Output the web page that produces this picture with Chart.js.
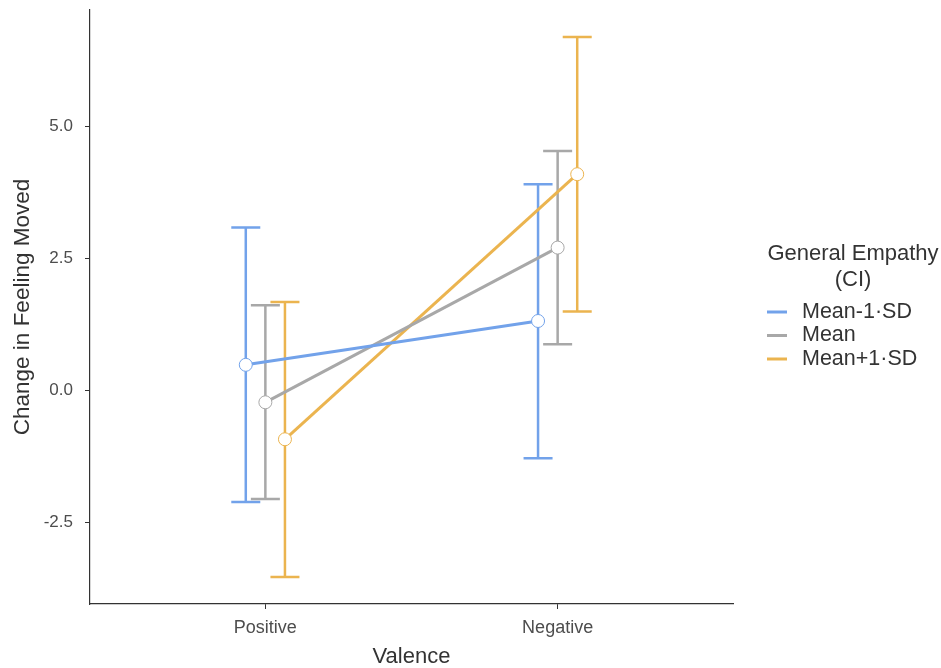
<!DOCTYPE html>
<html>
<head>
<meta charset="utf-8">
<script src="https://cdn.jsdelivr.net/npm/chart.js@4.4.1/dist/chart.umd.min.js"></script>
<style>
    body { margin: 0; background: #fff; }
    canvas { display: block; }
</style>
</head>
<body>
<canvas id="interactionChart" width="941" height="668"></canvas>
<script>
// Data
const categories = ['Positive', 'Negative'];
const seriesNames = ['Mean-1\u00b7SD', 'Mean', 'Mean+1\u00b7SD'];
const lowEmpathyMean = [0.49, 1.32];
const lowEmpathyLower = [-2.11, -1.28];
const lowEmpathyUpper = [3.09, 3.91];
const meanEmpathyMean = [-0.22, 2.71];
const meanEmpathyLower = [-2.05, 0.88];
const meanEmpathyUpper = [1.62, 4.54];
const highEmpathyMean = [-0.92, 4.10];
const highEmpathyLower = [-3.53, 1.50];
const highEmpathyUpper = [1.68, 6.70];
const yTicks = [-2.5, 0, 2.5, 5.0];

const colors = ['#72a2ea', '#a8a8a8', '#ebb44f'];
const dodge = 0.067;
const fontFamily = '"Liberation Sans", Arial, sans-serif';

const seriesData = [
    { mean: lowEmpathyMean, lower: lowEmpathyLower, upper: lowEmpathyUpper },
    { mean: meanEmpathyMean, lower: meanEmpathyLower, upper: meanEmpathyUpper },
    { mean: highEmpathyMean, lower: highEmpathyLower, upper: highEmpathyUpper }
];

const datasets = seriesData.map((s, k) => ({
    label: seriesNames[k],
    data: s.mean.map((v, i) => ({ x: i + 1 + (k - 1) * dodge, y: v, lo: s.lower[i], hi: s.upper[i] })),
    borderColor: colors[k],
    borderWidth: 3,
    pointRadius: 6.5,
    pointBorderWidth: 1,
    pointBackgroundColor: '#ffffff',
    pointBorderColor: colors[k],
    tension: 0
}));

// Error bars under the lines
const errorBars = {
    id: 'errorBars',
    beforeDatasetsDraw(chart) {
        const { ctx, scales: { x, y } } = chart;
        ctx.save();
        ctx.lineWidth = 2.5;
        chart.data.datasets.forEach(ds => {
            ctx.strokeStyle = ds.borderColor;
            ds.data.forEach(p => {
                const px = x.getPixelForValue(p.x);
                const top = y.getPixelForValue(p.hi);
                const bot = y.getPixelForValue(p.lo);
                ctx.beginPath();
                ctx.moveTo(px, top); ctx.lineTo(px, bot);
                ctx.moveTo(px - 14.5, top); ctx.lineTo(px + 14.5, top);
                ctx.moveTo(px - 14.5, bot); ctx.lineTo(px + 14.5, bot);
                ctx.stroke();
            });
        });
        ctx.restore();
    }
};

// Legend on the right
const sideLegend = {
    id: 'sideLegend',
    afterDraw(chart) {
        const ctx = chart.ctx;
        ctx.save();
        ctx.fillStyle = '#333';
        ctx.font = '22px ' + fontFamily;
        ctx.textAlign = 'center';
        ctx.textBaseline = 'middle';
        ctx.fillText('General Empathy', 853, 254);
        ctx.fillText('(CI)', 853, 280);
        ctx.font = '21.5px ' + fontFamily;
        ctx.textAlign = 'left';
        seriesNames.forEach((name, k) => {
            const yy = 312 + k * 23.5;
            ctx.strokeStyle = colors[k];
            ctx.lineWidth = 3;
            ctx.beginPath();
            ctx.moveTo(767, yy); ctx.lineTo(787, yy);
            ctx.stroke();
            ctx.fillStyle = '#333';
            ctx.fillText(name, 802, yy);
        });
        ctx.restore();
    }
};

const ctx = document.getElementById('interactionChart').getContext('2d');
const chart = new Chart(ctx, {
    type: 'line',
    data: { datasets },
    plugins: [errorBars, sideLegend],
    options: {
        responsive: false,
        animation: false,
        layout: { padding: { top: 10, right: 208, left: 0, bottom: 0 } },
        plugins: {
            legend: { display: false },
            tooltip: { enabled: false }
        },
        scales: {
            x: {
                type: 'linear',
                min: 0.4,
                max: 2.6,
                afterBuildTicks: scale => { scale.ticks = categories.map((c, i) => ({ value: i + 1 })); },
                afterFit: scale => { scale.height = 64; scale.paddingLeft = 0; scale.paddingRight = 0; },
                ticks: {
                    callback: v => categories[v - 1],
                    color: '#4d4d4d',
                    padding: 8,
                    maxRotation: 0,
                    font: { family: fontFamily, size: 18 }
                },
                grid: { drawOnChartArea: false, drawTicks: true, tickLength: 5, color: '#333', lineWidth: 1 },
                border: { display: true, color: '#333', width: 1.2 },
                title: {
                    display: true,
                    text: 'Valence',
                    color: '#333',
                    padding: { top: 0, bottom: 0 },
                    font: { family: fontFamily, size: 22, lineHeight: 1 }
                }
            },
            y: {
                min: -4.04,
                max: 7.21,
                afterBuildTicks: scale => { scale.ticks = yTicks.map(v => ({ value: v })); },
                afterFit: scale => { scale.width = 90; scale.paddingTop = 0; scale.paddingBottom = 0; },
                ticks: {
                    callback: v => v.toFixed(1),
                    color: '#4d4d4d',
                    padding: 12,
                    font: { family: fontFamily, size: 17 }
                },
                grid: { drawOnChartArea: false, drawTicks: true, tickLength: 5, color: '#333', lineWidth: 1 },
                border: { display: true, color: '#333', width: 1.2 },
                title: {
                    display: true,
                    text: 'Change in Feeling Moved',
                    color: '#333',
                    padding: { top: 12, bottom: 0 },
                    font: { family: fontFamily, size: 22.5, lineHeight: 1 }
                }
            }
        }
    }
});
</script>
</body>
</html>
